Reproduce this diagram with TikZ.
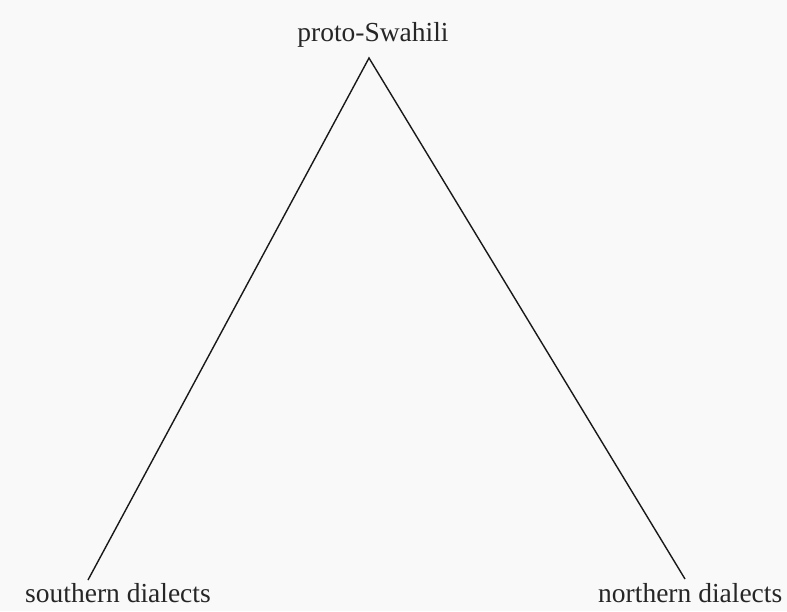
\documentclass[tikz,border=0pt]{standalone}
\usepackage{fontspec}
\setmainfont{Liberation Serif}
\begin{document}
\begin{tikzpicture}[x=1pt,y=1pt,
  label text/.style={inner sep=0pt,anchor=base west,font=\fontsize{27.5}{30}\selectfont,text=black!85},
  branch/.style={draw=black!90,line width=1.4pt}]
  % page and background
  \fill[black!2.5] (0,0) rectangle (787,611);
  \useasboundingbox (0,0) rectangle (787,611);
  % labels
  \node[label text,anchor=base] (root) at (373,569) {proto-Swahili};
  \node[label text] (south) at (25,9) {southern dialects};
  \node[label text] (north) at (598,9) {northern dialects};
  % branch points
  \coordinate (apex) at (369,553);
  \coordinate (southEnd) at (88,31);
  \coordinate (northEnd) at (685,32);
  % tree branches
  \draw[branch] (southEnd) -- (apex) -- (northEnd);
\end{tikzpicture}
\end{document}
